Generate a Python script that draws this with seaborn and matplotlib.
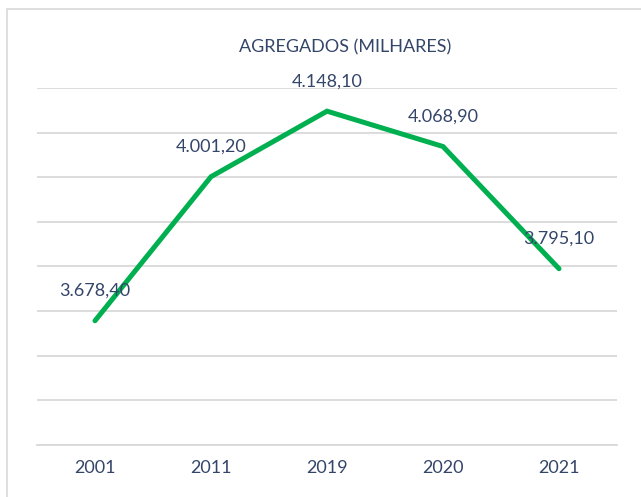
import matplotlib
matplotlib.use("Agg")
import matplotlib.pyplot as plt
import seaborn as sns
import numpy as np
from matplotlib.patches import Rectangle

years = ["2001", "2011", "2019", "2020", "2021"]
values = [3678.4, 4001.2, 4148.1, 4068.9, 3795.1]
title = "AGREGADOS (MILHARES)"

text_color = "#34456A"
grid_color = "#D9D9D9"
line_color = "#00B050"


def fmt_pt(v):
    s = f"{v:,.2f}"
    return s.replace(",", "X").replace(".", ",").replace("X", ".")


sns.set_theme(style="white")
plt.rcParams["font.family"] = ["Lato", "DejaVu Sans"]

fig = plt.figure(figsize=(6.41, 4.97), dpi=100)
fig.patch.set_facecolor("white")
fig.patches.append(Rectangle((7 / 641, -0.1), 1.2, (497 - 9) / 497 + 0.1,
                             transform=fig.transFigure, fill=False,
                             edgecolor="#D9D9D9", linewidth=1.2))

ax = fig.add_axes([37 / 641, 52 / 497, 580 / 641, 357 / 497])
ax.set_facecolor("none")

sns.lineplot(x=years, y=values, sort=False, color=line_color, linewidth=3.6,
             ax=ax, solid_capstyle="round", solid_joinstyle="miter")

for i, v in enumerate(values):
    ax.annotate(fmt_pt(v), (i, v), xytext=(0, 21.5), textcoords="offset points",
                ha="center", va="center", fontsize=13, color=text_color)

ax.set_xlim(-0.5, 4.5)
ax.set_ylim(3400, 4200)
ax.set_yticks(np.arange(3400, 4201, 100))
ax.set_yticklabels([])
ax.grid(axis="y", color=grid_color, linewidth=1.3)
ax.grid(axis="x", visible=False)
ax.set_axisbelow(True)
for side in ["left", "right", "top"]:
    ax.spines[side].set_visible(False)
ax.spines["bottom"].set_color(grid_color)
ax.spines["bottom"].set_linewidth(1.3)
ax.tick_params(axis="both", length=0)
ax.tick_params(axis="x", labelsize=13, labelcolor=text_color, pad=11)
ax.set_xlabel("")
ax.set_ylabel("")

fig.text(345 / 641, 1 - 47 / 497, title, ha="center", va="center",
         fontsize=13, color=text_color)

fig.savefig("out.png", dpi=100)
